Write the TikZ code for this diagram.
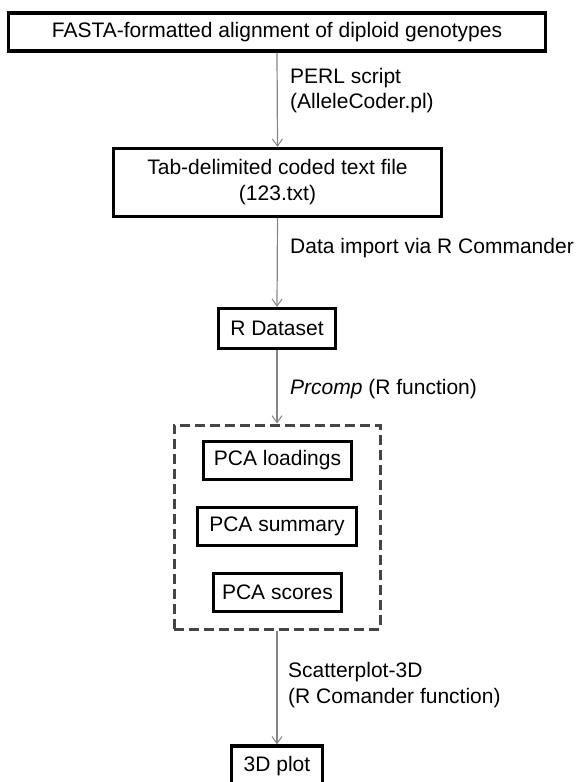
\documentclass[tikz,border=0pt]{standalone}
\usepackage{fontspec}
\setmainfont{Liberation Sans}
\usetikzlibrary{arrows.meta}
\definecolor{arrowgray}{HTML}{858585}
\definecolor{dashgray}{HTML}{454545}
\tikzset{
  boxnode/.style={draw=black, line width=3.3pt, inner sep=0pt, align=center,
    font=\fontsize{21}{26}\selectfont},
  flowarrow/.style={draw=arrowgray, line width=1.2pt,
    -{Straight Barb[length=7pt,width=10pt,line width=1pt]}},
  lbl/.style={anchor=west, align=left, inner sep=0pt,
    font=\fontsize{21}{25.5}\selectfont},
  groupbox/.style={draw=dashgray, line width=3pt, dash pattern=on 10pt off 5pt,
    inner sep=0pt}
}
\begin{document}
\begin{tikzpicture}[x=1pt,y=-1pt]
\useasboundingbox (0,0) rectangle (579,782);
\node[boxnode, minimum width=537pt, minimum height=38pt] (top) at (277,32)
  {FASTA-formatted alignment of diploid genotypes};
\node[boxnode, minimum width=328pt, minimum height=68pt] (tab) at (277.5,182.5)
  {Tab-delimited coded text file\\(123.txt)};
\node[boxnode, minimum width=117pt, minimum height=40pt] (rds) at (277,328.5)
  {R Dataset};
\node[groupbox, minimum width=206pt, minimum height=204pt] (pca) at (277,527) {};
\node[boxnode, minimum width=148pt, minimum height=38pt] (load) at (277.5,460.5)
  {PCA loadings};
\node[boxnode, minimum width=159pt, minimum height=38pt] (summ) at (277,526.5)
  {PCA summary};
\node[boxnode, minimum width=128pt, minimum height=38pt] (score) at (277.5,592.5)
  {PCA scores};
\node[boxnode, minimum width=91pt, minimum height=40pt] (plot) at (277,766)
  {3D plot};

\draw[flowarrow] (top.south) -- (tab.north);
\draw[flowarrow] (tab.south) -- (rds.north);
\draw[flowarrow] (rds.south) -- (pca.north);
\draw[flowarrow] (pca.south) -- (plot.north);

\node[lbl] (l1) at (290,90.5) {PERL script\\(AlleleCoder.pl)};
\node[lbl] (l2) at (290,248) {Data import via R Commander};
\node[lbl] (l3) at (290,389) {\textit{Prcomp} (R function)};
\node[lbl] (l4) at (288,685) {Scatterplot-3D\\(R Comander function)};
\end{tikzpicture}
\end{document}
